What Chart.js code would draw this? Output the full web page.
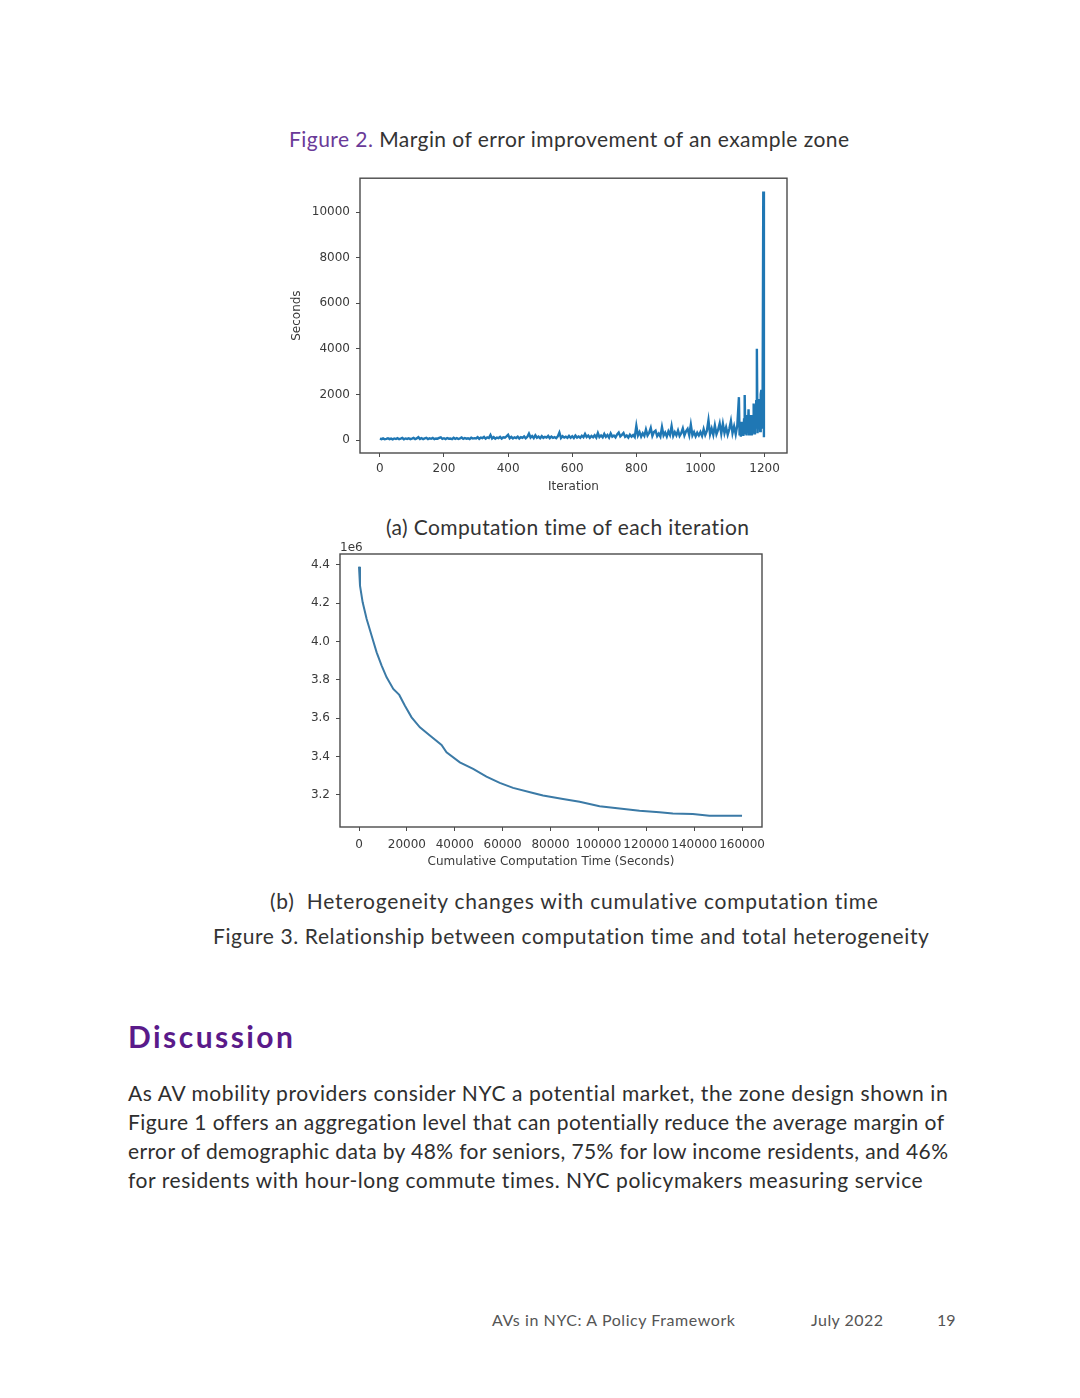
<!DOCTYPE html>
<html>
<head>
<meta charset="utf-8">
<script src="https://cdn.jsdelivr.net/npm/chart.js@4.4.0/dist/chart.umd.min.js"></script>
<style>
  html,body{margin:0;padding:0;background:#fff;}
  body{width:1080px;height:1398px;position:relative;overflow:hidden;font-family:Lato,"Noto Sans",sans-serif;color:#333;}
  .t{position:absolute;white-space:nowrap;line-height:1;}
  .cap{font-size:21px;}
  .p{font-size:21px;color:#2e2e2e;}
  .foot{font-size:16px;color:#555;}
  .purple{color:#6a3a98;}
  #disc{font-size:30px;font-weight:700;color:#5a1a8a;}
  canvas{position:absolute;}
</style>
</head>
<body>
<div class="t cap fit" data-w="560" style="left:289px;top:128px;"><span class="purple">Figure 2.</span> Margin of error improvement of an example zone</div>
<canvas id="chartA" width="520" height="340" style="left:280px;top:165px;width:520px;height:340px;"></canvas>
<div class="t cap fit" data-w="364" style="left:386px;top:516px;">(a) Computation time of each iteration</div>
<canvas id="chartB" width="500" height="340" style="left:280px;top:535px;width:500px;height:340px;"></canvas>
<div class="t cap fit" data-w="609" style="left:270px;top:890px;">(b)&nbsp; Heterogeneity changes with cumulative computation time</div>
<div class="t cap fit" data-w="717" style="left:213px;top:925px;">Figure 3. Relationship between computation time and total heterogeneity</div>
<div id="disc" class="t fit" data-w="165" style="left:128px;top:1020.7px;">Discussion</div>
<div class="t p fit" data-w="820" style="left:128px;top:1082px;">As AV mobility providers consider NYC a potential market, the zone design shown in</div>
<div class="t p fit" data-w="816" style="left:128px;top:1111px;">Figure 1 offers an aggregation level that can potentially reduce the average margin of</div>
<div class="t p fit" data-w="820" style="left:128px;top:1140px;">error of demographic data by 48% for seniors, 75% for low income residents, and 46%</div>
<div class="t p fit" data-w="795" style="left:128px;top:1169px;">for residents with hour-long commute times. NYC policymakers measuring service</div>
<div class="t foot fit" data-w="243" style="left:492px;top:1312px;">AVs in NYC: A Policy Framework</div>
<div class="t foot fit" data-w="72" style="left:811px;top:1312px;">July 2022</div>
<div class="t foot" style="left:937px;top:1312px;">19</div>

<script>
// ---------- Chart (a): computation time of each iteration ----------
const iterations = [
  0,5,10,15,20,25,30,35,40,45,50,55,60,65,70,75,80,85,90,95,
  100,105,110,115,120,125,130,135,140,145,150,155,160,165,170,175,180,185,190,195,
  200,205,210,215,220,225,230,235,240,245,250,255,260,265,270,275,280,285,290,295,
  300,305,310,315,320,325,330,335,340,345,350,355,360,365,370,375,380,385,390,395,
  400,405,410,415,420,425,430,435,440,445,450,455,460,465,470,475,480,485,490,495,
  500,505,510,515,520,525,530,535,540,545,550,555,560,565,570,575,580,585,590,595,
  600,605,610,615,620,625,630,635,640,645,650,655,660,665,670,675,680,685,690,695,
  700,705,710,715,720,725,730,735,740,745,750,755,760,765,770,775,780,785,790,795,
  800,805,810,815,820,825,830,835,840,845,850,855,860,865,870,875,880,885,890,895,
  900,905,910,915,920,925,930,935,940,945,950,955,960,965,970,975,980,985,990,995,
  1000,1005,1010,1015,1020,1025,1030,1035,1040,1045,1050,1055,1060,1065,1070,1075,1080,1085,1090,1095,
  1100,1105,1110,1115,
  1120,1122,1124,1126,1128,1130,1132,1134,1136,1138,
  1140,1142,1144,1146,1148,1150,1152,1154,1156,1158,
  1160,1162,1164,1166,1168,1170,1172,1174,1176,1178,
  1180,1182,1184,1186,1188,1190,1192,1194,1196,1198
];
const seconds = [
  60,40,75,35,55,80,40,65,30,70,
  45,85,40,60,90,35,70,50,80,40,
  65,95,45,75,130,50,85,40,70,100,
  45,75,55,90,40,70,60,95,120,50,
  80,45,90,60,70,40,100,55,85,45,
  75,110,50,90,60,80,45,100,65,85,
  70,130,55,110,80,140,60,120,90,220,
  70,130,60,110,85,140,65,120,100,160,
  230,80,140,70,120,90,150,70,130,100,
  160,75,140,280,110,180,90,210,100,150,
  80,170,95,140,110,180,85,150,100,130,
  80,160,330,90,170,110,150,95,180,100,
  170,90,200,110,160,100,190,120,270,130,
  200,100,180,120,210,110,310,130,200,120,
  270,140,220,110,290,150,200,120,250,330,
  160,230,310,140,200,110,240,150,220,130,
  620,200,350,150,300,180,460,200,320,530,
  180,350,410,170,280,150,570,200,330,160,
  380,220,610,180,350,210,420,180,300,510,
  200,380,490,220,670,200,350,160,320,200,
  350,180,480,220,400,870,250,500,230,640,
  260,450,730,280,710,300,560,240,480,830,
  300,600,250,650,
  1880,200,600,150,800,250,700,180,900,1980,
  300,1100,200,900,400,1350,250,1000,300,1100,
  200,800,400,1600,300,1200,500,1700,4000,300,
  1500,600,1800,400,2000,2200,500,2100,10900,120
];
const xTicksA = [0,200,400,600,800,1000,1200];
const yTicksA = [0,2000,4000,6000,8000,10000];

// ---------- Chart (b): heterogeneity vs cumulative computation time ----------
const cumulativeTime = [0,417,1529,3197,5282,7367,9453,11538,14318,16820,19183,21964,25440,29609,34475,36560,
  42120,47680,53240,58800,64360,72700,76870,85210,92160,100500,108840,117180,125520,131080,139420,146370,160000];
const heterogeneity = [4.391,4.292,4.205,4.118,4.031,3.944,3.875,3.814,3.753,3.722,3.666,3.605,3.553,3.510,3.461,3.423,
  3.370,3.336,3.296,3.263,3.237,3.210,3.197,3.179,3.165,3.141,3.130,3.118,3.110,3.104,3.101,3.092,3.092];
const xTicksB = [0,20000,40000,60000,80000,100000,120000,140000,160000];
const yTicksB = [3.2,3.4,3.6,3.8,4.0,4.2,4.4];

const tickFont = {family:'"DejaVu Sans"', size:12};
const tickColor = '#3a3a3a';

const boxPlugin = {
  id:'box',
  afterDraw(c){
    const {ctx, chartArea:a} = c;
    ctx.save();
    ctx.strokeStyle = '#4a4a4a';
    ctx.lineWidth = 1.4;
    ctx.strokeRect(a.left, a.top, a.right - a.left, a.bottom - a.top);
    ctx.restore();
  }
};
const offsetTextPlugin = {
  id:'offsetText',
  afterDraw(c, args, opts){
    if(!opts || !opts.text) return;
    const {ctx, chartArea:a} = c;
    ctx.save();
    ctx.font = '12px "DejaVu Sans"';
    ctx.fillStyle = tickColor;
    ctx.textAlign = 'left';
    ctx.textBaseline = 'alphabetic';
    ctx.fillText(opts.text, a.left, a.top - 3);
    ctx.restore();
  }
};

function axis(min, max, ticks, fmt, pad, extra){
  return Object.assign({
    type:'linear', min, max,
    afterBuildTicks: s => { s.ticks = ticks.map(v => ({value:v})); },
    ticks:{autoSkip:false, maxRotation:0, minRotation:0, font:tickFont, color:tickColor, padding:pad, callback: fmt},
    grid:{display:true, drawOnChartArea:false, drawTicks:true, tickLength:4, tickColor:'#4a4a4a', tickWidth:1},
    border:{display:false}
  }, extra);
}

new Chart(document.getElementById('chartA'), {
  type:'line',
  data:{datasets:[{
    data: iterations.map((x,i) => ({x, y: seconds[i]})),
    borderColor:'#1f77b4', borderWidth:2.4, pointRadius:0, tension:0, fill:false
  }]},
  options:{
    responsive:false, animation:false, devicePixelRatio:1,
    layout:{padding:{left:0, right:13, top:12, bottom:0}},
    plugins:{legend:{display:false}, tooltip:{enabled:false}},
    scales:{
      x: axis(-62, 1270, xTicksA, v => String(v), 5, {
        title:{display:true, text:'Iteration', font:tickFont, color:tickColor, padding:{top:0, bottom:11}},
        afterFit: s => { s.height = 52; }
      }),
      y: axis(-568, 11485, yTicksA, v => String(v), 6, {
        title:{display:true, text:'Seconds', font:tickFont, color:tickColor, padding:{top:10, bottom:0}},
        afterFit: s => { s.width = 80; }
      })
    }
  },
  plugins:[boxPlugin]
});

new Chart(document.getElementById('chartB'), {
  type:'line',
  data:{datasets:[{
    data: cumulativeTime.map((x,i) => ({x, y: heterogeneity[i]})),
    borderColor:'#3b7aa6', borderWidth:2, pointRadius:0, tension:0, fill:false
  }]},
  options:{
    responsive:false, animation:false, devicePixelRatio:1,
    layout:{padding:{left:0, right:18, top:19, bottom:0}},
    plugins:{legend:{display:false}, tooltip:{enabled:false}, offsetText:{text:'1e6'}},
    scales:{
      x: axis(-7937, 168340, xTicksB, v => String(v), 7, {
        title:{display:true, text:'Cumulative Computation Time (Seconds)', font:tickFont, color:tickColor, padding:{top:0, bottom:6}},
        afterFit: s => { s.height = 48; }
      }),
      y: axis(3.033, 4.457, yTicksB, v => v.toFixed(1), 6, {
        afterFit: s => { s.width = 60; }
      })
    }
  },
  plugins:[boxPlugin, offsetTextPlugin]
});

// fit caption / body text widths to the reference line lengths
function fitText(){
  document.querySelectorAll('.fit').forEach(el => {
    const target = +el.dataset.w;
    el.style.letterSpacing = '0px';
    const w = el.getBoundingClientRect().width;
    const n = el.textContent.length;
    if(n > 1) el.style.letterSpacing = ((target - w) / (n - 1)) + 'px';
  });
}
fitText();
if(document.fonts && document.fonts.ready) document.fonts.ready.then(fitText);
</script>
</body>
</html>
